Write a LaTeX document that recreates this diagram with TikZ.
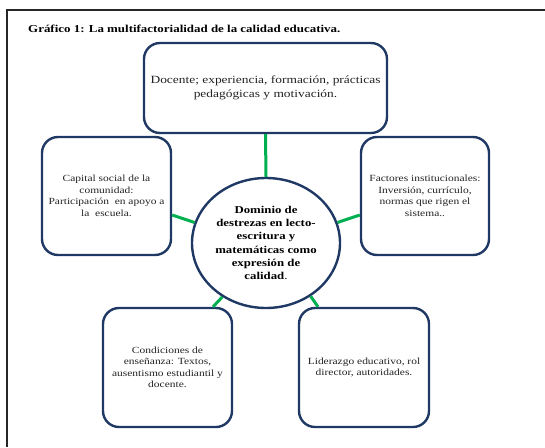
\documentclass[tikz,border=0pt]{standalone}
\usepackage{fontspec}
\setmainfont{Liberation Serif}[FakeStretch=1.22]
\usetikzlibrary{shapes.geometric}
\definecolor{navy}{RGB}{31,56,100}
\definecolor{lgreen}{RGB}{0,176,80}
\definecolor{txt}{RGB}{35,35,35}
\begin{document}
\begin{tikzpicture}[x=1pt,y=-1pt,
  box/.style={draw=navy,line width=2.4pt,rounded corners=16pt,align=center,inner sep=2pt,text=txt,font=\fontsize{9.4}{11.5}\selectfont},
  hubstyle/.style={draw=navy,line width=2.4pt,ellipse,align=center,inner sep=0pt,minimum width=148pt,minimum height=130pt,font=\bfseries\fontsize{10.5}{13.2}\selectfont},
  link/.style={draw=lgreen,line width=3pt}]
\useasboundingbox (0,0) rectangle (545,447);
\draw[line width=1.4pt,black!85] (7,447) -- (7,10) -- (545,10);
\node[anchor=west,inner sep=0pt,font=\bfseries\fontsize{10.6}{12}\selectfont] (title) at (28,29) {Gráfico 1: La multifactorialidad de la calidad educativa.};
% boxes
\node[box,minimum width=243pt,minimum height=90pt,font=\fontsize{11}{14.5}\selectfont] (top) at (265.5,88) {Docente; experiencia, formación, prácticas\\pedagógicas y motivación.};
\node[box,minimum width=129pt,minimum height=118pt] (left) at (106.5,196) {Capital social de la\\comunidad:\\Participación~ en apoyo a\\la~ escuela.};
\node[box,minimum width=128pt,minimum height=118pt] (right) at (425,196) {Factores institucionales:\\Inversión, currículo,\\normas que rigen el\\sistema..};
\node[box,minimum width=129pt,minimum height=119pt] (bl) at (167.5,367.5) {Condiciones de\\enseñanza: Textos,\\ausentismo estudiantil y\\docente.};
\node[box,minimum width=130pt,minimum height=119pt] (br) at (364,367.5) {Liderazgo educativo, rol\\director, autoridades.};
% hub
\node[hubstyle] (hub) at (266,243) {Dominio de\\destrezas en lecto-\\escritura y\\matemáticas como\\expresión de\\calidad{\mdseries.}};
\draw[link] (top.south) -- (hub.north);
\draw[link] ([yshift=-19pt]left.east) -- (hub.164);
\draw[link] ([yshift=-19pt]right.west) -- (hub.16);
\draw[link] (hub.231) -- ([xshift=45.5pt]bl.north);
\draw[link] (hub.310) -- ([xshift=-46pt]br.north);
\end{tikzpicture}
\end{document}
